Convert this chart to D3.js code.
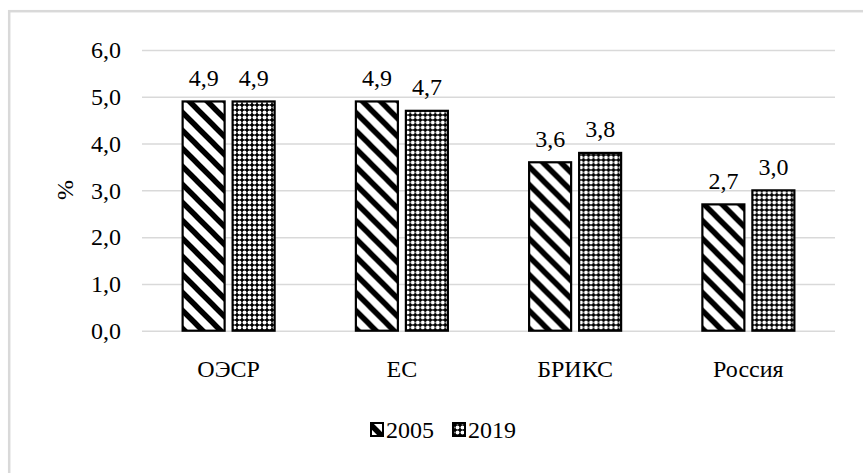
<!DOCTYPE html>
<html><head><meta charset="utf-8">
<script src="https://cdn.jsdelivr.net/npm/d3@7"></script>
<style>body{margin:0;background:#fff}svg{display:block}</style>
</head><body>
<script>
const categories = ["ОЭСР", "ЕС", "БРИКС", "Россия"];
const seriesNames = ["2005", "2019"];
const values2005 = [4.9, 4.9, 3.6, 2.7];
const values2019 = [4.9, 4.7, 3.8, 3.0];
const yTicks = [0, 1, 2, 3, 4, 5, 6];
const yTitle = "%";

const FONT = "Liberation Serif, Times New Roman, Times, Tinos, Noto Serif, DejaVu Serif, FreeSerif, serif";
const W = 863, H = 473;
const svg = d3.select("body").append("svg").attr("width", W).attr("height", H);

// border
svg.append("rect").attr("x", 9.2).attr("y", 11.2).attr("width", W + 20).attr("height", H + 20)
  .attr("fill", "none").attr("stroke", "#d9d9d9").attr("stroke-width", 2.5);

const defs = svg.append("defs");
const p1 = defs.append("pattern").attr("id", "p2005").attr("patternUnits", "userSpaceOnUse")
  .attr("width", 18).attr("height", 18);
p1.append("rect").attr("width", 18).attr("height", 18).attr("fill", "#fff");
p1.append("path").attr("d", "M-4.5,-4.5L22.5,22.5M-4.5,13.5L4.5,22.5M13.5,-4.5L22.5,4.5")
  .attr("stroke", "#000").attr("stroke-width", 5.5);
const p2 = defs.append("pattern").attr("id", "p2019").attr("patternUnits", "userSpaceOnUse")
  .attr("width", 5).attr("height", 5);
p2.append("rect").attr("width", 5).attr("height", 5).attr("fill", "#000");
p2.append("circle").attr("cx", 2.5).attr("cy", 2.5).attr("r", 1.95).attr("fill", "#fff");
const fills = {"2005": "url(#p2005)", "2019": "url(#p2019)"};

const x0 = 142, x1 = 835, yTop = 50, yBot = 330.7;
const y = d3.scaleLinear().domain([0, 6]).range([yBot, yTop]);
const x = d3.scaleBand().domain(categories).range([x0, x1]).paddingInner(0).paddingOuter(0);
const gw = 92, off = (x.bandwidth() - gw) / 2;
const xs = d3.scaleBand().domain(seriesNames).range([off, off + gw]).paddingInner(0.16).paddingOuter(0);

const fmt = v => d3.format(".1f")(v).replace(".", ",");

// grid + y labels
const ya = svg.append("g").attr("transform", `translate(${x0},0)`)
  .call(d3.axisLeft(y).tickValues(yTicks).tickSize(-(x1 - x0)).tickPadding(21).tickFormat(fmt));
ya.attr("font-family", null).attr("font-size", null);
ya.select(".domain").remove();
ya.selectAll(".tick line").attr("stroke", "#d9d9d9").attr("stroke-width", 1.5);
ya.selectAll(".tick text").attr("dy", "0.32em").attr("fill", "#000");

svg.append("text").attr("transform", `translate(73,190) rotate(-90)`).attr("text-anchor", "middle")
  .text(yTitle);

const data = categories.map((c, i) => ({c, vals: [{s: "2005", v: values2005[i]}, {s: "2019", v: values2019[i]}]}));
const g = svg.append("g").selectAll("g").data(data).join("g")
  .attr("transform", d => `translate(${x(d.c)},0)`);
g.selectAll("rect").data(d => d.vals).join("rect")
  .attr("x", d => xs(d.s)).attr("width", xs.bandwidth())
  .attr("y", d => y(d.v)).attr("height", d => y(0) - y(d.v))
  .attr("fill", d => fills[d.s]).attr("stroke", "#000").attr("stroke-width", 2.2);
g.selectAll("text").data(d => d.vals).join("text")
  .attr("x", d => xs(d.s) + xs.bandwidth() / 2).attr("y", d => y(d.v) - 15.5)
  .attr("text-anchor", "middle").text(d => fmt(d.v));

svg.append("g").selectAll("text").data(categories).join("text")
  .attr("x", d => x(d) + x.bandwidth() / 2).attr("y", 377)
  .attr("text-anchor", "middle").text(d => d);

// legend
const leg = [{s: "2005", x: 371}, {s: "2019", x: 453}];
const lg = svg.append("g").selectAll("g").data(leg).join("g");
lg.append("rect").attr("x", d => d.x).attr("y", 423).attr("width", 12).attr("height", 13)
  .attr("fill", d => fills[d.s]).attr("stroke", "#000").attr("stroke-width", 2);
lg.append("text").attr("x", d => d.x + 15).attr("y", 438).text(d => d.s);

svg.selectAll("text").style("font-family", FONT).style("font-size", "24px").style("fill", "#000");
</script>
</body></html>
